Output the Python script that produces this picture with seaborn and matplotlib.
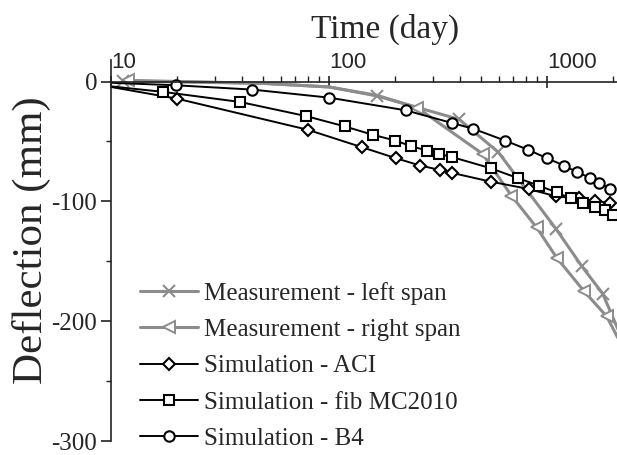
import matplotlib
matplotlib.use("Agg")
import matplotlib.pyplot as plt
import matplotlib.ticker as mticker
import numpy as np
import pandas as pd
import seaborn as sns

# ---------------- data ----------------
left_t = [11.4, 50, 100, 166, 396, 598, 1100, 1442, 1800, 2200]
left_d = [0.5, -1.5, -4.5, -12.0, -31.6, -59.0, -123.0, -154.0, -177.0, -214.0]
left_marks = [0, 3, 4, 5, 6, 7, 8]

right_t = [12.0, 50, 100, 166, 254, 507, 687, 896, 1107, 1479, 1878, 2200]
right_d = [1.0, -1.5, -4.5, -11.5, -21.8, -60.4, -95.3, -121.8, -147.0, -175.0, -196.0, -220.0]
right_marks = [0, 4, 5, 6, 7, 8, 9, 10]

aci_t = [10, 20, 79.8, 141, 203, 262, 323, 368, 551, 826, 1099, 1402, 1660, 1939]
aci_d = [-4.5, -14.2, -40.2, -54.7, -64.0, -70.1, -73.8, -76.3, -83.5, -89.7, -95.8, -97.5, -99.5, -101.4]

mc_t = [10, 17.3, 39, 78.4, 118, 158.7, 201, 238, 281, 320, 368, 551, 733, 918, 1107, 1282, 1466, 1660, 1850, 2009]
mc_d = [-4.0, -8.6, -17.0, -28.8, -37.4, -44.4, -49.2, -53.9, -57.6, -60.4, -63.1, -72.3, -80.5, -86.9,
        -92.5, -97.5, -101.4, -104.5, -107.5, -111.6]

b4_t = [10, 19.8, 44.5, 100, 225, 367, 459, 641, 821, 1000, 1200, 1377, 1570, 1738, 1950]
b4_d = [-1.0, -3.1, -6.7, -13.4, -24.0, -34.6, -39.4, -49.2, -57.0, -64.0, -70.2, -75.7, -80.2, -84.7, -89.5]

labels = ["Measurement - left span", "Measurement - right span", "Simulation - ACI",
          "Simulation - fib MC2010", "Simulation - B4"]
xticks = [10, 100, 1000]
yticks = [0, -100, -200, -300]

# ---------------- figure ----------------
sns.set_theme(style="white")
plt.rcParams["font.family"] = ["Liberation Serif", "DejaVu Serif"]
plt.rcParams["axes.unicode_minus"] = False

W, H = 617, 455
fig = plt.figure(figsize=(W / 100, H / 100), dpi=100)
ax = fig.add_axes([111 / W, 1 - 441 / H, (617 - 111) / W, (441 - 60) / H])

gray = "#8c8c8c"
mk = dict(markersize=7.5, markeredgewidth=1.5, markerfacecolor="white")

sns.lineplot(x=left_t, y=left_d, ax=ax, color=gray, lw=2.2, marker="x", markersize=9,
             markeredgewidth=1.5, markeredgecolor=gray, markevery=left_marks,
             estimator=None, sort=False, label=labels[0])
sns.lineplot(x=right_t, y=right_d, ax=ax, color=gray, lw=2.2, marker="<", markersize=9,
             markeredgewidth=1.4, markeredgecolor=gray, markerfacecolor="white",
             markevery=right_marks, estimator=None, sort=False, label=labels[1])
sns.lineplot(x=aci_t, y=aci_d, ax=ax, color="black", lw=1.4, marker="D", markeredgecolor="black",
             markevery=list(range(1, len(aci_t))), estimator=None, sort=False, label=labels[2],
             **dict(mk, markersize=6.5))
sns.lineplot(x=mc_t, y=mc_d, ax=ax, color="black", lw=1.4, marker="s", markeredgecolor="black",
             markevery=list(range(1, len(mc_t))), estimator=None, sort=False, label=labels[3],
             **dict(mk, markersize=6.5))
sns.lineplot(x=b4_t, y=b4_d, ax=ax, color="black", lw=1.4, marker="o", markeredgecolor="black",
             markevery=list(range(1, len(b4_t))), estimator=None, sort=False, label=labels[4], **mk)

ax.set_xscale("log")
ax.set_xlim(10, 2094)
ax.set_ylim(-300, 18)

# spines
for s in ["bottom", "right"]:
    ax.spines[s].set_visible(False)
ax.spines["top"].set_position(("data", 0))
for s in ["top", "left"]:
    ax.spines[s].set_color("#222222")
    ax.spines[s].set_linewidth(1.2)

# x axis on top
ax.xaxis.set_ticks_position("top")
ax.set_xticks(xticks)
ax.xaxis.set_major_formatter(mticker.FixedFormatter([str(v) for v in xticks]))
ax.xaxis.set_minor_locator(mticker.LogLocator(base=10, subs=np.arange(2, 10)))
ax.xaxis.set_minor_formatter(mticker.NullFormatter())
ax.tick_params(axis="x", which="major", direction="inout", length=9, width=1.2, color="#222222",
               pad=2, labelsize=16, top=True, bottom=False, labeltop=True, labelbottom=False)
ax.tick_params(axis="x", which="minor", direction="out", length=4.5, width=1.0, color="#222222",
               top=True, bottom=False)
for lab in ax.get_xticklabels():
    lab.set_family(["Liberation Sans", "DejaVu Sans"])
    lab.set_horizontalalignment("left")

# y axis
ax.set_yticks(yticks)
ax.yaxis.set_minor_locator(mticker.FixedLocator([-50, -150, -250]))
ax.tick_params(axis="y", which="major", direction="out", length=7, width=1.2, color="#222222",
               pad=3, labelsize=18, left=True)
ax.tick_params(axis="y", which="minor", direction="out", length=3.5, width=1.0, color="#222222",
               left=True)
ax.grid(False)

ax.set_xlabel("")
ax.set_ylabel("")
fig.text(385 / W, 1 - 29 / H, "Time (day)", ha="center", va="center", fontsize=24)
fig.text(31 / W, 1 - 240 / H, "Deflection (mm)", ha="center", va="center", rotation=90, fontsize=31)

leg = ax.legend(loc="upper left", bbox_to_anchor=(29 / 506, (441 - 282) / 381), frameon=False,
                fontsize=18, handlelength=2.3, handletextpad=0.25, labelspacing=0.55,
                borderpad=0, borderaxespad=0)

fig.savefig("out.png", dpi=100)
